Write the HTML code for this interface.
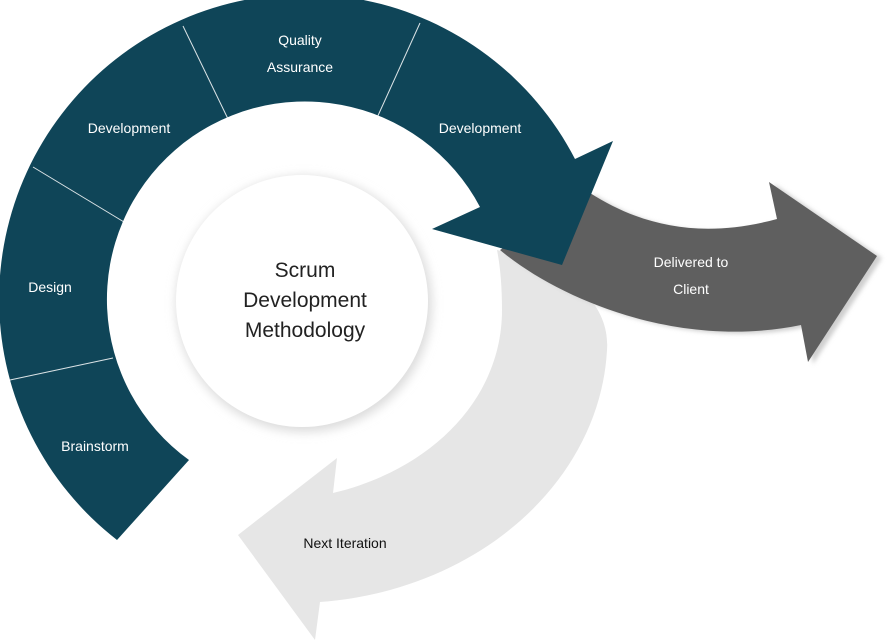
<!DOCTYPE html>
<html><head><meta charset="utf-8"><style>
html,body{margin:0;padding:0;background:#fff;}
svg{display:block;}
text{font-family:"Liberation Sans",sans-serif;}
</style></head><body>
<svg width="894" height="644" viewBox="0 0 894 644" xmlns="http://www.w3.org/2000/svg">
<defs>
<filter id="sh" x="-20%" y="-20%" width="140%" height="140%"><feGaussianBlur stdDeviation="5"/></filter>
<filter id="sh2" x="-20%" y="-20%" width="140%" height="140%"><feGaussianBlur stdDeviation="2"/></filter>
</defs>
<!-- light gray next iteration arrow -->
<path d="M 497,250 C 580,270 610,310 607,350 C 600,480 480,590 320,602 L 315,640 L 238,535 L 337,458 L 333,493 C 430,470 502,400 502,310 C 502,285 500,265 497,250 Z" fill="#e6e6e6"/>
<!-- gray delivered arrow shadow -->
<path d="M 505,252 C 565,302 685,352 806,327 L 813,364 L 882,258 L 774,184 L 782,221 C 705,242 645,227 595,195 Z" fill="#cfcfcf" filter="url(#sh2)"/>
<!-- gray delivered arrow -->
<path d="M 500,250 C 560,300 680,350 801,325 L 808,362 L 877,256 L 769,182 L 777,219 C 700,240 640,225 590,193 Z" fill="#5f5f5f"/>
<!-- white circle -->
<circle cx="304" cy="304" r="128" fill="#dcdcdc" filter="url(#sh)"/>
<circle cx="302" cy="301" r="126" fill="#fff"/>
<!-- dark ring -->
<path d="M 117,540 A305 305 0 1 1 575,159 L 613,141 L 562,265 L 432,229 L 480,207 A198 198 0 1 0 189,460 Z" fill="#0f4558"/>
<g stroke="#fff" stroke-width="1" opacity="0.85">
<line x1="10" y1="380" x2="113" y2="358"/>
<line x1="33" y1="167" x2="124" y2="222"/>
<line x1="183" y1="26" x2="229" y2="121"/>
<line x1="420" y1="23" x2="376" y2="120"/>
</g>
<g fill="#fff" font-size="14" text-anchor="middle">
<text x="300" y="45">Quality</text>
<text x="300" y="72">Assurance</text>
<text x="129" y="133">Development</text>
<text x="480" y="133">Development</text>
<text x="50" y="292">Design</text>
<text x="95" y="451">Brainstorm</text>
<text x="691" y="267">Delivered to</text>
<text x="691" y="294">Client</text>
</g>
<text x="345" y="548" font-size="14" text-anchor="middle" fill="#111">Next Iteration</text>
<g fill="#222" font-size="21" text-anchor="middle">
<text x="305" y="277">Scrum</text>
<text x="305" y="307">Development</text>
<text x="305" y="337">Methodology</text>
</g>
</svg>
</body></html>
